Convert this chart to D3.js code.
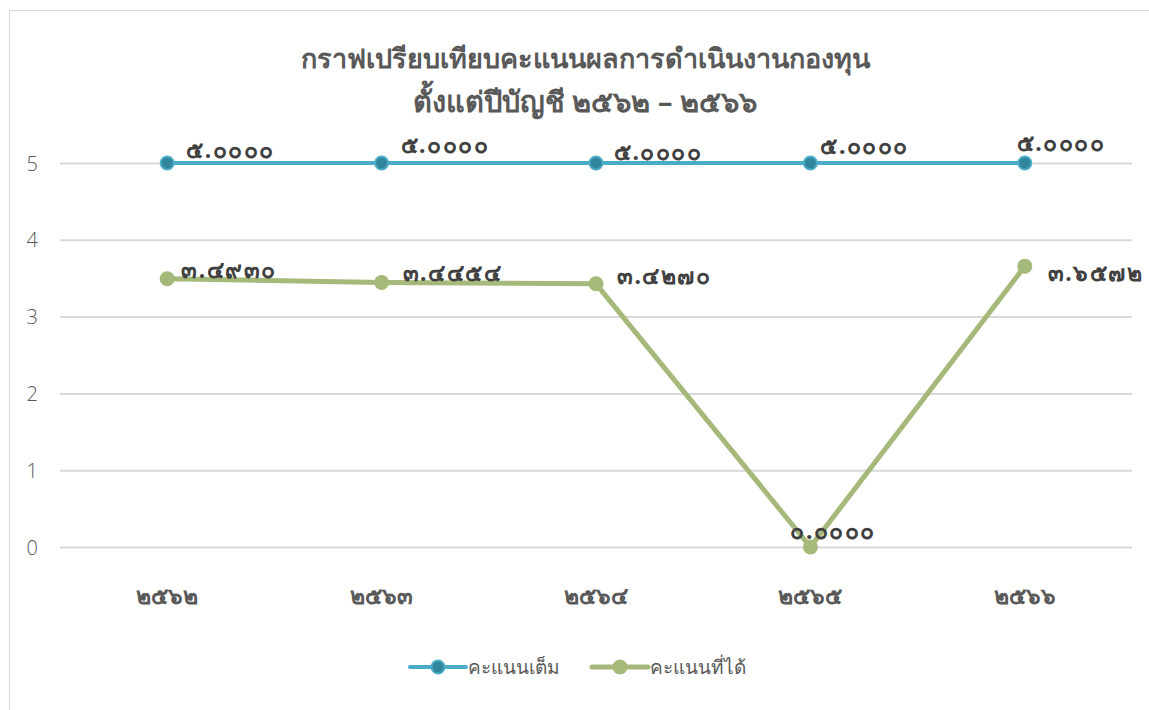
<html>
<head>
<script src="https://d3js.org/d3.v7.min.js"></script>
<style>
body { margin: 0; background: #fff; font-family: "Noto Sans", "DejaVu Sans", sans-serif; }
svg { display: block; }
</style>
</head>
<body>
<div id="chart"></div>
<script>
var years = ["๒๕๖๒", "๒๕๖๓", "๒๕๖๔", "๒๕๖๕", "๒๕๖๖"];
var fullScore = [5, 5, 5, 5, 5];
var gotScore = [3.4930, 3.4454, 3.4270, 0.0000, 3.6572];
var yTicks = [0, 1, 2, 3, 4, 5];
var seriesNames = ["คะแนนเต็ม", "คะแนนที่ได้"];
var titleLines = ["กราฟเปรียบเทียบคะแนนผลการดำเนินงานกองทุน", "ตั้งแต่ปีบัญชี ๒๕๖๒ – ๒๕๖๖"];

// label nudges (dx, dy)
var fullNudge = [[19, -13], [19, -18], [18, -11], [10, -17], [-8, -20]];
var gotNudge = [[14, -9], [21, -9], [21, -8], [-20, -16], [23, 7]];

var width = 1149, height = 710;
var svg = d3.select("#chart").append("svg").attr("width", width).attr("height", height);

// chart frame
svg.append("rect").attr("x", 9.5).attr("y", 10.5).attr("width", 1150).attr("height", 720)
  .style("fill", "#fff").style("stroke", "#d9d9d9");

var thaiDigits = "๐๑๒๓๔๕๖๗๘๙";
function toThai(s) {
  return s.replace(/[0-9]/g, function (c) { return thaiDigits[+c]; });
}
var fmt = d3.format(".4f");

var xScale = d3.scaleBand().domain(years).range([60, 1132]);
var yScale = d3.scaleLinear().domain([0, 5]).range([547, 163]);
var xc = function (d, i) { return xScale(years[i]) + xScale.bandwidth() / 2; };

// gridlines + y labels
var yAxis = d3.axisLeft(yScale).tickValues(yTicks).tickFormat(d3.format("d"))
  .tickSize(-(1132 - 60)).tickPadding(22);
var gy = svg.append("g").attr("transform", "translate(60,0)").call(yAxis);
gy.select(".domain").remove();
gy.selectAll("line").style("stroke", "#d9d9d9").style("stroke-width", 2);
gy.selectAll("text").style("fill", "#595959").style("font-size", "20px")
  .style("font-family", "'Open Sans', sans-serif").style("font-weight", 300)
  .attr("dy", "0.35em");

// x labels
var xAxis = d3.axisBottom(xScale).tickSize(0).tickPadding(0);
var gx = svg.append("g").attr("transform", "translate(0,596)").call(xAxis);
gx.select(".domain").remove();
gx.selectAll("text").style("fill", "#595959").style("font-size", "23px")
  .style("font-weight", "bold").attr("dy", "0.35em");

// title
svg.selectAll("text.title").data(titleLines).enter()
  .append("text").attr("class", "title")
  .attr("x", 585).attr("y", function (d, i) { return 68 + i * 44; })
  .attr("text-anchor", "middle")
  .style("fill", "#595959").style("font-size", function (d, i) { return i ? "29px" : "27px"; })
  .style("font-weight", "bold")
  .text(function (d) { return d; });

var line = d3.line().x(xc).y(function (d) { return yScale(d); });

svg.append("path").datum(fullScore).attr("d", line)
  .style("fill", "none").style("stroke", "#4bacc6").style("stroke-width", 4);
svg.append("path").datum(gotScore).attr("d", line)
  .style("fill", "none").style("stroke", "#a5b97a").style("stroke-width", 5)
  .style("stroke-linejoin", "round");

svg.selectAll("circle.full").data(fullScore).enter()
  .append("circle").attr("class", "full")
  .attr("cx", xc).attr("cy", function (d) { return yScale(d); }).attr("r", 6.5)
  .style("fill", "#31859c").style("stroke", "#4bacc6").style("stroke-width", 2);
svg.selectAll("circle.got").data(gotScore).enter()
  .append("circle").attr("class", "got")
  .attr("cx", xc).attr("cy", function (d) { return yScale(d); }).attr("r", 7.5)
  .style("fill", "#a5b97a");

// data labels
function labels(data, nudge, cls) {
  svg.selectAll("text." + cls).data(data).enter()
    .append("text").attr("class", cls)
    .attr("x", function (d, i) { return xc(d, i) + nudge[i][0]; })
    .attr("y", function (d, i) { return yScale(d) + nudge[i][1]; })
    .attr("dy", "0.35em")
    .style("fill", "#404040").style("font-size", "23px").style("font-weight", "bold")
    .style("letter-spacing", "1.5px")
    .text(function (d) { return toThai(fmt(d)); });
}
labels(fullScore, fullNudge, "lf");
labels(gotScore, gotNudge, "lg");

// legend
var legendX = [410, 592];
var legendColor = ["#4bacc6", "#a5b97a"];
var lg = svg.selectAll("g.legend").data(seriesNames).enter()
  .append("g").attr("class", "legend")
  .attr("transform", function (d, i) { return "translate(" + legendX[i] + ",667)"; });
lg.append("line").attr("x1", 0).attr("x2", 56)
  .style("stroke", function (d, i) { return legendColor[i]; })
  .style("stroke-width", function (d, i) { return i ? 5 : 4; })
  .style("stroke-linecap", "round");
lg.append("circle").attr("cx", 28).attr("r", function (d, i) { return i ? 7.5 : 6.5; })
  .style("fill", function (d, i) { return i ? "#a5b97a" : "#31859c"; })
  .style("stroke", function (d, i) { return i ? "none" : "#4bacc6"; })
  .style("stroke-width", 2);
lg.append("text").attr("x", 58).attr("dy", "0.35em")
  .style("fill", "#595959").style("font-size", "19px")
  .text(function (d) { return d; });
</script>
</body>
</html>
